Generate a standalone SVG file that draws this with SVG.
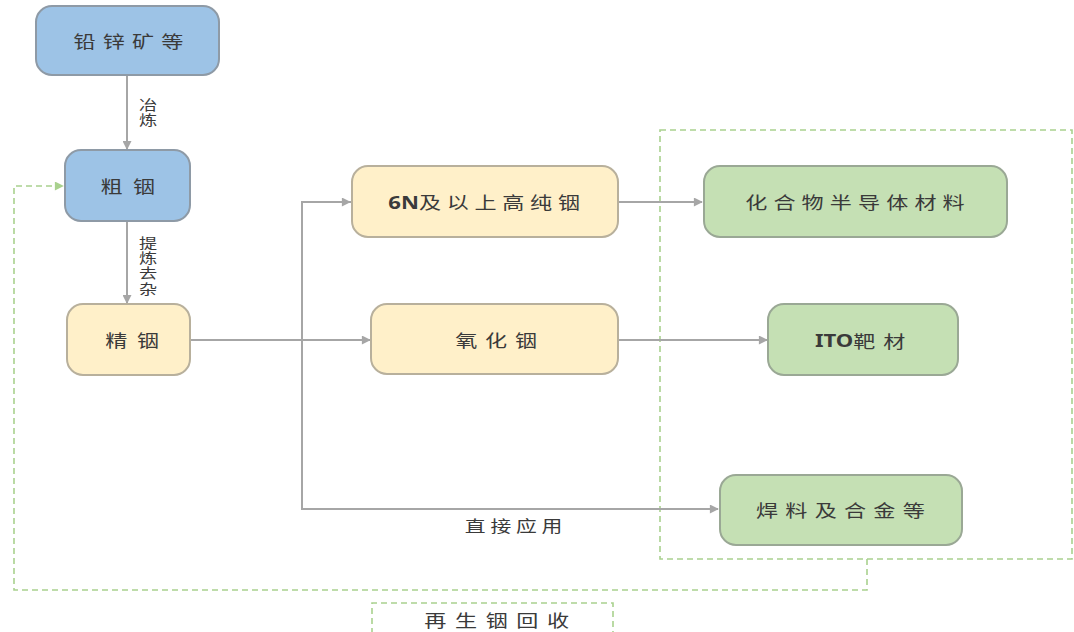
<svg xmlns="http://www.w3.org/2000/svg" width="1074" height="632" viewBox="0 0 1074 632">
  <defs>
    <marker id="arrow" viewBox="0 0 10 10" refX="9" refY="5" markerWidth="11" markerHeight="9" markerUnits="userSpaceOnUse" orient="auto">
      <path d="M0,0 L10,5 L0,10 z" fill="#a6a6a6"/>
    </marker>
    <marker id="arrow-green" viewBox="0 0 10 10" refX="9" refY="5" markerWidth="11" markerHeight="9" markerUnits="userSpaceOnUse" orient="auto">
      <path d="M0,0 L10,5 L0,10 z" fill="#a9d18e"/>
    </marker>
    <style>
      .blue   { fill: #9dc3e6; stroke: #8e9aa6; stroke-width: 2; }
      .yellow { fill: #fff0c9; stroke: #b8b09c; stroke-width: 2; }
      .green  { fill: #c5e0b4; stroke: #9aa895; stroke-width: 2; }
      .label  { font-family: "Noto Sans CJK SC", "Liberation Sans", sans-serif; font-size: 17px; fill: #3a3a3a; text-anchor: middle; dominant-baseline: central; }
      .vert   { font-family: "Noto Sans CJK SC", "Liberation Sans", sans-serif; font-size: 14px; fill: #3a3a3a; text-anchor: middle; dominant-baseline: central; writing-mode: vertical-rl; letter-spacing: 1.3px; }
      .latin  { font-family: "Noto Sans", "Liberation Sans", sans-serif; font-weight: bold; }
      .flow   { fill: none; stroke: #a6a6a6; stroke-width: 2; }
      .dash   { fill: none; stroke: #a9d18e; stroke-width: 1.6; stroke-dasharray: 6 4; }
    </style>
  </defs>

  <rect width="1074" height="632" fill="#ffffff"/>

  <!-- application area and recycling loop -->
  <g id="recycle">
    <rect class="dash" x="660" y="130" width="412" height="429"/>
    <path class="dash" d="M867,559 V590 H14 V186 H63" marker-end="url(#arrow-green)"/>
    <path class="dash" d="M372,634 V603 H613 V634"/>
    <text class="label" transform="translate(501,620) scale(1.3,1)" letter-spacing="6.6">再生铟回收</text>
  </g>

  <!-- connectors -->
  <g id="connectors">
    <line class="flow" x1="127" y1="76" x2="127" y2="149" marker-end="url(#arrow)"/>
    <line class="flow" x1="127" y1="221" x2="127" y2="303" marker-end="url(#arrow)"/>
    <line class="flow" x1="190" y1="340" x2="370" y2="340" marker-end="url(#arrow)"/>
    <path class="flow" d="M351,202 H302 V509 H718" marker-end="url(#arrow)"/>
    <line class="flow" x1="302" y1="202" x2="350" y2="202" marker-end="url(#arrow)"/>
    <line class="flow" x1="618" y1="202" x2="702" y2="202" marker-end="url(#arrow)"/>
    <line class="flow" x1="618" y1="340" x2="767" y2="340" marker-end="url(#arrow)"/>
    <text class="vert" transform="translate(148,113) scale(1.3,1)">冶炼</text>
    <text class="vert" transform="translate(148,266) scale(1.3,1)">提炼去杂</text>
    <text class="label" style="font-size:16px" transform="translate(516,525) scale(1.3,1)" letter-spacing="3.7">直接应用</text>
  </g>

  <g id="ore">
    <rect class="blue" x="36" y="6" width="183" height="69" rx="16"/>
    <text class="label" transform="translate(132,41) scale(1.3,1)" letter-spacing="5.5">铅锌矿等</text>
  </g>

  <g id="crude-indium">
    <rect class="blue" x="65" y="150" width="125" height="71" rx="16"/>
    <text class="label" transform="translate(133,186) scale(1.3,1)" letter-spacing="8">粗铟</text>
  </g>

  <g id="refined-indium">
    <rect class="yellow" x="67" y="304" width="123" height="71" rx="16"/>
    <text class="label" transform="translate(137,340) scale(1.3,1)" letter-spacing="7.5">精铟</text>
  </g>

  <g id="high-purity">
    <rect class="yellow" x="352" y="166" width="266" height="71" rx="16"/>
    <text class="label" transform="translate(487,202) scale(1.3,1)" letter-spacing="4.4"><tspan class="latin" letter-spacing="0">6N</tspan>及以上高纯铟</text>
  </g>

  <g id="indium-oxide">
    <rect class="yellow" x="371" y="304" width="247" height="70" rx="16"/>
    <text class="label" transform="translate(500,340) scale(1.3,1)" letter-spacing="6">氧化铟</text>
  </g>

  <g id="semiconductor">
    <rect class="green" x="704" y="166" width="303" height="71" rx="16"/>
    <text class="label" transform="translate(858,202) scale(1.3,1)" letter-spacing="4.7">化合物半导体材料</text>
  </g>

  <g id="ito-target">
    <rect class="green" x="768" y="304" width="190" height="71" rx="16"/>
    <text class="label" transform="translate(864,340) scale(1.3,1)"><tspan class="latin">ITO</tspan><tspan letter-spacing="6">靶材</tspan></text>
  </g>

  <g id="solder">
    <rect class="green" x="720" y="475" width="242" height="70" rx="16"/>
    <text class="label" transform="translate(844,510) scale(1.3,1)" letter-spacing="5.6">焊料及合金等</text>
  </g>
</svg>
